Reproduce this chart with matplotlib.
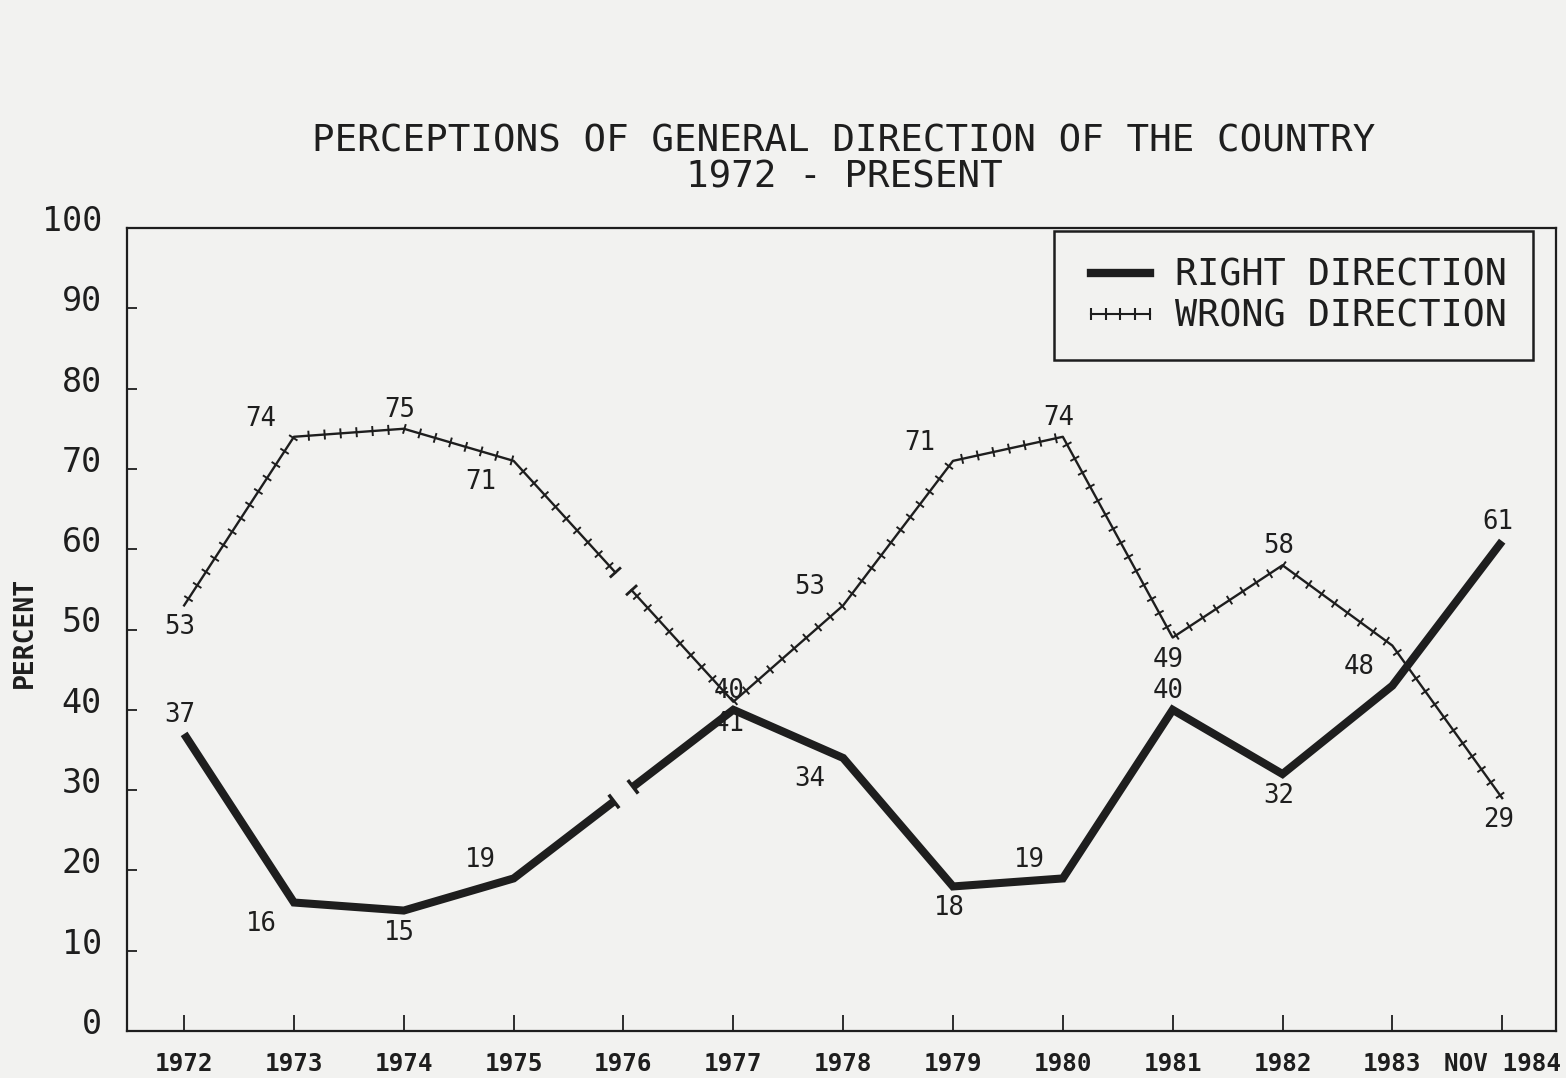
import matplotlib
matplotlib.use("Agg")
import matplotlib.pyplot as plt
import numpy as np
from matplotlib.lines import Line2D
from matplotlib.collections import LineCollection
import matplotlib.transforms as mtransforms

# Data (1976 not surveyed -> break in the lines)
years = [1972, 1973, 1974, 1975, 1977, 1978, 1979, 1980, 1981, 1982, 1983, 1984]
right_dir = [37, 16, 15, 19, 40, 34, 18, 19, 40, 32, 43, 61]
wrong_dir = [53, 74, 75, 71, 41, 53, 71, 74, 49, 58, 48, 29]
break_year = 1976
tick_years = list(range(1972, 1985))
tick_labels = [str(y) for y in range(1972, 1984)] + ["NOV 1984"]
y_ticks = list(range(0, 101, 10))

# where the value labels sit: a=above, b=below, al/bl = left of point
right_pos = ['a', 'bl', 'b', 'al', 'a', 'bl', 'b', 'al', 'a', 'b', None, 'a']
wrong_pos = ['b', 'al', 'a', 'bl', 'b', 'al', 'al', 'a', 'b', 'a', 'bl', 'b']
offs = {'a': (-4, 19), 'b': (-4, -22), 'al': (-33, 18), 'bl': (-33, -21)}

ink = '#1e1e1e'
paper = '#f2f2f0'
mono = 'DejaVu Sans Mono'
plt.rcParams['font.family'] = mono

fig = plt.figure(figsize=(15.66, 10.78), dpi=100, facecolor=paper)
ax = fig.add_axes([127/1566, 1 - 1031/1078, 1429/1566, 803/1078])
ax.set_facecolor(paper)
ax.set_xlim(1971.48, 1984.49)
ax.set_ylim(0, 100)

def disp(xs, ys):
    return ax.transData.transform(np.column_stack([xs, ys]))

def to_data(p):
    return ax.transData.inverted().transform(np.atleast_2d(p))

def split_at_break(xs, ys, gap):
    P = disp(xs, ys)
    bx = ax.transData.transform((break_year, 0))[0]
    i = int(np.searchsorted(xs, break_year))
    a, b = P[i-1], P[i]
    t = (bx - a[0]) / (b[0] - a[0])
    m = a + t * (b - a)
    u = (b - a) / np.linalg.norm(b - a)
    left = np.vstack([P[:i], m - u * gap])
    right = np.vstack([m + u * gap, P[i:]])
    return [left, right], [m - u * gap, m + u * gap], u

def caps(points, u, length):
    n = np.array([-u[1], u[0]])
    segs = []
    for p in points:
        segs.append(to_data(np.vstack([p - n * length / 2, p + n * length / 2])))
    return segs

# RIGHT DIRECTION : heavy line
pieces, ends, u = split_at_break(years, right_dir, 12)
for pc in pieces:
    d = to_data(pc)
    ax.plot(d[:, 0], d[:, 1], color=ink, lw=5.8, solid_capstyle='butt',
            solid_joinstyle='miter')
ax.add_collection(LineCollection(caps(ends, u, 17), colors=ink, linewidths=2.5))

# WRONG DIRECTION : thin line with cross ticks
pieces, ends, u = split_at_break(years, wrong_dir, 12)
tick_segs = []
for pc in pieces:
    d = to_data(pc)
    ax.plot(d[:, 0], d[:, 1], color=ink, lw=1.7)
    carry = 8.0
    for a, b in zip(pc[:-1], pc[1:]):
        L = np.linalg.norm(b - a)
        uu = (b - a) / L
        nn = np.array([-uu[1], uu[0]])
        s = carry
        while s < L:
            p = a + uu * s
            tick_segs.append(to_data(np.vstack([p - nn * 5, p + nn * 5])))
            s += 16.0
        carry = s - L
ax.add_collection(LineCollection(tick_segs, colors=ink, linewidths=1.4))
ax.add_collection(LineCollection(caps(ends, u, 15), colors=ink, linewidths=2.0))

# value labels
for series, pos in ((right_dir, right_pos), (wrong_dir, wrong_pos)):
    for x, v, p in zip(years, series, pos):
        if p is None:
            continue
        dx, dy = offs[p]
        ax.annotate(str(v), (x, v), xytext=(dx * 0.72, dy * 0.72),
                    textcoords='offset points', ha='center', va='center',
                    fontsize=18.5, color=ink)

# axes styling
ax.set_xticks(tick_years)
ax.set_xticklabels(tick_labels, fontsize=17.5, fontweight='bold', color=ink)
ax.set_yticks(y_ticks)
ax.set_yticklabels([str(v) for v in y_ticks], fontsize=24, color=ink)
ax.tick_params(axis='x', direction='in', length=11.5, width=1.3, pad=15, colors=ink)
ax.tick_params(axis='y', direction='in', length=7, width=1.3, pad=18, colors=ink)
shift = mtransforms.ScaledTranslation(0, 10/100, fig.dpi_scale_trans)
for lab in ax.get_yticklabels():
    lab.set_transform(lab.get_transform() + shift)
for sp in ax.spines.values():
    sp.set_linewidth(1.6)
    sp.set_color(ink)

fig.text(25/1566, 1 - 632/1078, 'PERCENT', rotation=90, ha='center', va='center',
         fontsize=19, fontweight='bold', color=ink)
fig.text(844/1566, 1 - 142/1078, 'PERCEPTIONS OF GENERAL DIRECTION OF THE COUNTRY',
         ha='center', va='center', fontsize=27, color=ink)
fig.text(844/1566, 1 - 178/1078, '1972 - PRESENT', ha='center', va='center',
         fontsize=27, color=ink)

handles = [Line2D([], [], color=ink, lw=6),
           Line2D([], [], color=ink, lw=1.5, marker='|', markersize=9, mew=1.5)]
leg = ax.legend(handles, ['RIGHT DIRECTION', 'WRONG DIRECTION'],
                loc='upper right', bbox_to_anchor=(0.984, 0.996), borderaxespad=0,
                fontsize=26.5, numpoints=5, handlelength=2.2, handletextpad=0.4,
                labelspacing=0.1, borderpad=0.7, fancybox=False,
                facecolor=paper, framealpha=1)
leg.get_frame().set_edgecolor(ink)
leg.get_frame().set_linewidth(1.8)
for t in leg.get_texts():
    t.set_color(ink)

fig.savefig('out.png', dpi=100, facecolor=paper)
